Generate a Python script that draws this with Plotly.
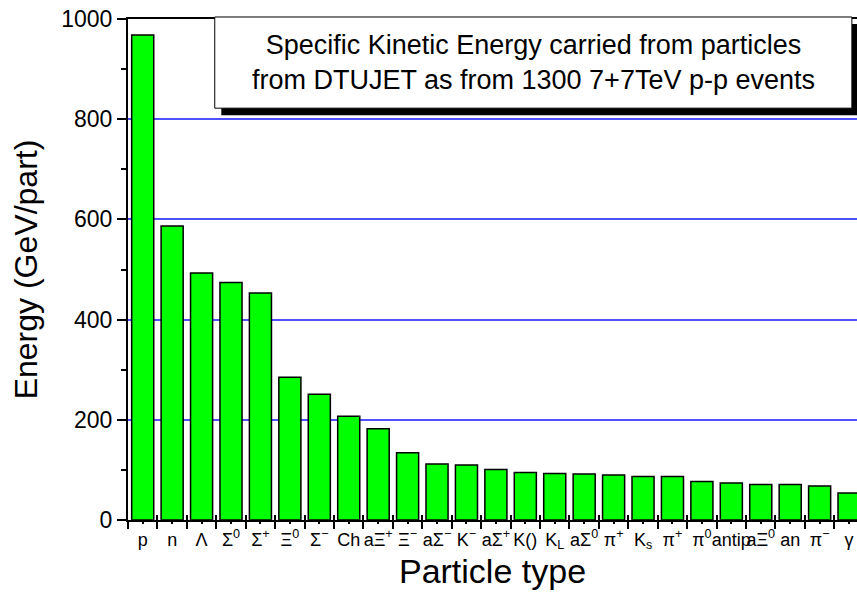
import plotly.graph_objects as go

# Particle species (tick labels) and their specific kinetic energy (GeV/particle)
particles = [
    "p", "n", "Λ", "Σ<sup>0</sup>", "Σ<sup>+</sup>", "Ξ<sup>0</sup>", "Σ<sup>−</sup>",
    "Ch", "aΞ<sup>+</sup>", "Ξ<sup>−</sup>", "aΣ<sup>−</sup>", "K<sup>−</sup>",
    "aΣ<sup>+</sup>", "K()", "K<sub>L</sub>", "aΣ<sup>0</sup>", "π<sup>+</sup>",
    "K<sub>s</sub>", "π<sup>+</sup>", "π<sup>0</sup>", "antip", "aΞ<sup>0</sup>",
    "an", "π<sup>−</sup>", "γ",
]
energy = [
    968, 587, 493, 474, 453, 285, 251, 207, 182, 134, 112, 110, 101,
    95, 93, 92, 90, 87, 87, 77, 74, 71, 71, 68, 54,
]
y_ticks = [0, 200, 400, 600, 800, 1000]
y_minor = [100, 300, 500, 700, 900]

title_lines = [
    "Specific Kinetic Energy carried from particles",
    "from DTUJET as from 1300 7+7TeV p-p events",
]

idx = list(range(len(particles)))
bounds = [i - 0.5 for i in range(len(particles) + 1)]
x_range = [-0.5, 24.27]

FONT = "Liberation Sans, Arial, sans-serif"
GRID_BLUE = "rgb(80, 80, 255)"

fig = go.Figure()
fig.add_trace(go.Bar(
    x=idx, y=energy,
    marker=dict(color="#00FF00", line=dict(color="black", width=1.5)),
    width=0.75,
    showlegend=False, hoverinfo="y",
))
# invisible helper trace so the overlay axis with inward boundary ticks is drawn
fig.add_trace(go.Scatter(
    x=[0], y=[0], xaxis="x2", mode="markers",
    marker=dict(opacity=0), showlegend=False, hoverinfo="skip",
))

fig.update_layout(
    width=857, height=603,
    margin=dict(l=128, r=0, t=19, b=83),
    paper_bgcolor="white", plot_bgcolor="white",
    font=dict(family=FONT),
    bargap=0.25,
    xaxis=dict(
        range=x_range, fixedrange=True, showgrid=False, zeroline=False,
        tickmode="array", tickvals=idx, ticktext=particles, tickangle=0,
        ticks="outside", ticklen=2, tickwidth=1.5, tickcolor="black",
        tickfont=dict(size=18, family=FONT, color="black"),
        minor=dict(tickvals=bounds, ticks="outside", ticklen=7,
                   tickwidth=1.5, tickcolor="black", showgrid=False),
        showline=True, linecolor="black", linewidth=2, mirror=True,
        title=dict(text="Particle type",
                   font=dict(size=34, family=FONT, color="black"), standoff=2),
    ),
    xaxis2=dict(
        range=x_range, fixedrange=True, showgrid=False, zeroline=False,
        overlaying="x", anchor="y", side="bottom",
        tickmode="array", tickvals=bounds, showticklabels=False,
        ticks="inside", ticklen=5, tickwidth=1.5, tickcolor="black",
        showline=False,
    ),
    yaxis=dict(
        range=[0, 1000], fixedrange=True,
        tickmode="array", tickvals=y_ticks,
        ticks="outside", ticklen=9, tickwidth=1.5, tickcolor="black",
        tickfont=dict(size=23, family=FONT, color="black"),
        minor=dict(tickvals=y_minor, ticks="outside",
                   ticklen=5, tickwidth=1.5, tickcolor="black", showgrid=False),
        showgrid=True, gridcolor=GRID_BLUE, gridwidth=1.5,
        showline=True, linecolor="black", linewidth=2,
        zeroline=False,
        title=dict(text="Energy (GeV/part)",
                   font=dict(size=32, family=FONT, color="black"), standoff=14),
    ),
)

# title box with a drop shadow, sitting over the upper part of the plot
fig.add_shape(type="rect", xref="paper", yref="paper",
              x0=0.128, x1=1.01, y0=0.808, y1=0.99,
              fillcolor="black", line=dict(width=0), layer="above")
fig.add_shape(type="rect", xref="paper", yref="paper",
              x0=0.119, x1=0.993, y0=0.822, y1=1.004,
              fillcolor="white", line=dict(color="black", width=1), layer="above")
fig.add_annotation(
    xref="paper", yref="paper", x=0.556, y=0.913,
    text="<br>".join(title_lines), showarrow=False,
    font=dict(size=27, family=FONT, color="black"), align="center",
    xanchor="center", yanchor="middle",
)

fig.write_html("out.html")
